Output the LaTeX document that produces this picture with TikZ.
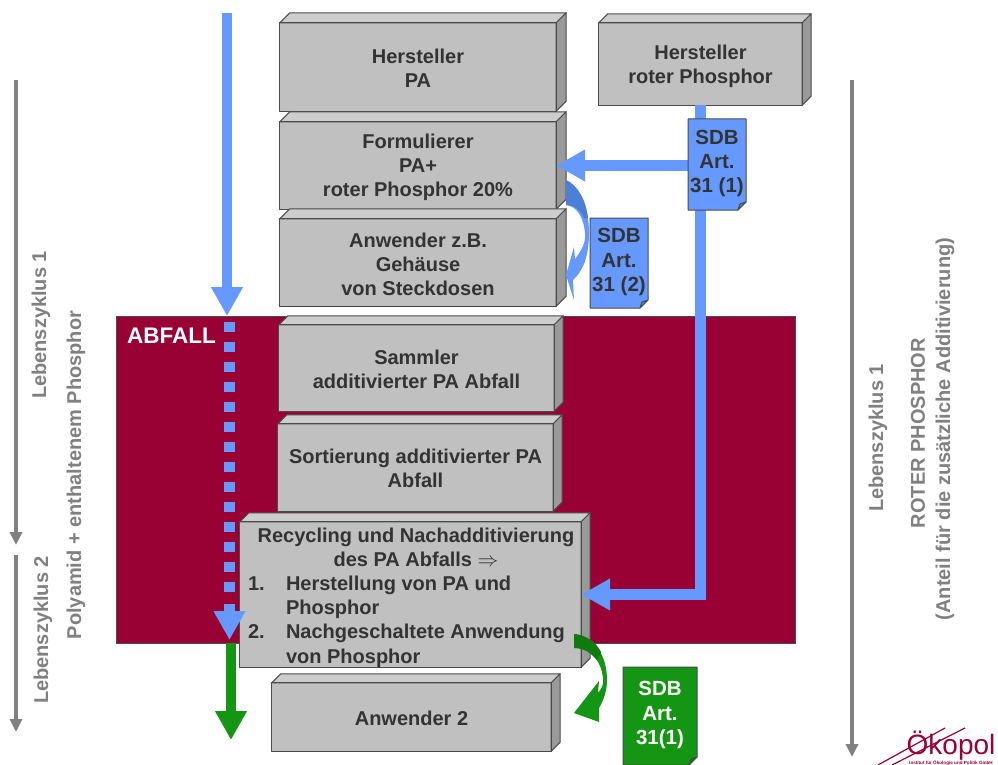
\documentclass[tikz,border=0pt]{standalone}
\usepackage{fontspec}
\setmainfont{Liberation Sans}
\usetikzlibrary{arrows.meta}
\definecolor{wine}{HTML}{990033}
\definecolor{bluearrow}{HTML}{6699FF}
\definecolor{bluedark}{HTML}{4D7FD9}
\definecolor{greenarrow}{HTML}{149614}
\definecolor{greendark}{HTML}{0F7A0F}
\definecolor{boxfront}{HTML}{C0C0C0}
\definecolor{boxtop}{HTML}{CDCDCD}
\definecolor{boxside}{HTML}{9A9A9A}
\definecolor{edge}{HTML}{4A4A4A}
\definecolor{ink}{HTML}{333333}
\definecolor{lifegrey}{HTML}{808080}
\tikzset{
  boxstyle/.style={fill=boxfront,inner sep=0pt},
  boxtext/.style={inner sep=0pt,align=center,text=ink,font=\fontsize{20}{24.2}\bfseries\selectfont},
  edgeline/.style={draw=edge,line width=1pt,line join=round},
  flowblue/.style={draw=bluearrow,line width=10.5pt,-{Triangle[length=29pt,width=30pt,fill=bluearrow]}},
  flowgreen/.style={draw=greenarrow,line width=10.5pt,-{Triangle[length=29pt,width=30pt,fill=greenarrow]}},
  lifearrow/.style={draw=lifegrey,line width=4pt,-{Triangle[length=13pt,width=12pt,fill=lifegrey]}},
  sidelabel/.style={rotate=90,text=lifegrey,font=\fontsize{20}{24}\bfseries\selectfont,inner sep=0pt,align=center},
  docstyle/.style={inner sep=0pt,align=center,font=\fontsize{20.5}{24.2}\bfseries\selectfont}
}
% name, x0, y0, x1, y1, depth, text shift, text
\newcommand{\cubebox}[8]{%
  \pgfmathsetmacro{\cxx}{(#2+#4)/2}\pgfmathsetmacro{\cyy}{(#3+#5)/2}%
  \pgfmathsetmacro{\wdd}{#4-#2}\pgfmathsetmacro{\htt}{#5-#3}%
  \node[boxstyle,minimum width=\wdd pt,minimum height=\htt pt] (#1) at (\cxx,\cyy) {};
  \draw[edgeline,fill=boxtop] (#1.north west) -- ++(#6,-#6) -- ([xshift=#6pt,yshift=#6pt]#1.north east) -- (#1.north east) -- cycle;
  \draw[edgeline,fill=boxside] (#1.north east) -- ++(#6,-#6) -- ([xshift=#6pt,yshift=#6pt]#1.south east) -- (#1.south east) -- cycle;
  \draw[edgeline] (#1.north west) rectangle (#1.south east);
  \node[boxtext] (#1text) at ([yshift=-#7pt]#1.center) {#8};
}
% name, x0, y0, x1, y1, fill, fold fill, text colour, text
\newcommand{\docbox}[9]{%
  \pgfmathsetmacro{\cxx}{(#2+#4)/2}\pgfmathsetmacro{\cyy}{(#3+#5)/2}%
  \pgfmathsetmacro{\wdd}{#4-#2}\pgfmathsetmacro{\htt}{#5-#3}%
  \draw[edgeline,fill=#6] (#2,#3) -- (#4,#3) -- (#4,#5-8) -- (#4-8,#5) -- (#2,#5) -- cycle;
  \draw[edgeline,fill=#7] (#4,#5-8) -- (#4-6,#5-6) -- (#4-8,#5) -- cycle;
  \node[docstyle,text=#8,minimum width=\wdd pt,minimum height=\htt pt] (#1) at (\cxx,\cyy-1) {#9};
}
\begin{document}
\begin{tikzpicture}[x=1pt,y=-1pt]
\useasboundingbox (0,0) rectangle (998,765);

% waste area
\node[fill=wine,draw=edge,line width=0.8pt,minimum width=679pt,minimum height=327pt,inner sep=0pt] (abfallarea) at (455.5,479.5) {};
\node[text=white,inner sep=0pt,font=\fontsize{22.5}{24}\bfseries\selectfont] (abfalltext) at (171.5,335.5) {ABFALL};

% boxes
\cubebox{hpa}{280}{23}{556}{111}{10}{1.6}{Hersteller\\PA}
\cubebox{hrp}{599}{23}{802}{105}{9}{2.5}{Hersteller\\roter Phosphor}
\cubebox{form}{280}{122}{556}{209}{10}{2}{Formulierer\\PA+\\roter Phosphor 20\%}
\cubebox{anw}{280}{219}{556}{306}{10}{1.8}{Anwender z.B.\\Gehäuse\\von Steckdosen}
\cubebox{samm}{279}{325}{554}{411}{9}{1.6}{Sammler\\additivierter PA Abfall}
\cubebox{sort}{278}{424}{553}{511}{9}{0.8}{Sortierung additivierter PA\\Abfall}
\cubebox{anwzwei}{272}{683}{551}{751}{9}{1.3}{Anwender 2}
\cubebox{rec}{240}{522}{581}{667}{9}{3}{%
  \hspace*{11pt}Recycling und Nachadditivierung\\
  \hspace*{11pt}des PA Abfalls $\Rightarrow$\\
  \makebox[325pt][l]{\makebox[38pt][l]{1.}Herstellung von PA und}\\
  \makebox[325pt][l]{\hspace*{38pt}Phosphor}\\
  \makebox[325pt][l]{\makebox[38pt][l]{2.}Nachgeschaltete Anwendung}\\
  \makebox[325pt][l]{\hspace*{38pt}von Phosphor}}

% blue connectors
\draw[flowblue] (hrp.south) |- (rec.east);
\draw[flowblue] (hrp.south |- form.east) -- (form.east);

% documents
\docbox{sdba}{688}{119}{746}{210}{bluearrow}{bluedark}{ink}{SDB\\Art.\\31 (1)}
\docbox{sdbb}{590}{218}{648}{308}{bluearrow}{bluedark}{ink}{SDB\\Art.\\31 (2)}
\docbox{sdbc}{623}{667}{697}{765}{greenarrow}{greendark}{white}{SDB\\Art.\\ 31(1)}

% main material flow
\coordinate (flowstart) at (227,13);
\coordinate (flowwaste) at (228,316);
\coordinate (dotstart) at (229.5,322);
\coordinate (dotend) at (229.5,592);
\coordinate (stubstart) at (229.5,604);
\coordinate (flowdotend) at (229.5,640);
\coordinate (greenstart) at (231,643);
\coordinate (flowgreenend) at (231,740);
\draw[flowblue] (flowstart) -- (flowstart |- flowwaste);
\draw[draw=bluearrow,line width=10.5pt,dash pattern=on 10pt off 10pt] (dotstart) -- (dotend);
\draw[flowgreen] (greenstart) -- (flowgreenend);
\draw[flowblue] (stubstart) -- (flowdotend);

% curved arrows
\fill[bluearrow] (566,180) .. controls (580,186) and (589,208) .. (589,233)
  .. controls (589,258) and (582,272) .. (573,280) -- (574,300) -- (566,275) -- (574,247) -- (575,259)
  .. controls (582,250) and (586,242) .. (585,233) .. controls (584,220) and (578,206) .. (566,205) -- cycle;
\fill[bluedark] (566,180) .. controls (578,186) and (586,200) .. (588,218) -- (584,218)
  .. controls (580,210) and (576,206) .. (566,205) -- cycle;
\fill[greenarrow] (574,634) .. controls (594,636) and (607,655) .. (607,680)
  .. controls (607,690) and (604,700) .. (599,708) -- (599,722) -- (574,713) -- (599,681) -- (598,693)
  .. controls (602,688) and (604,684) .. (603,678) .. controls (601,660) and (590,648) .. (574,648) -- cycle;
\fill[greendark] (574,634) .. controls (586,635) and (596,642) .. (601,652) -- (597,660)
  .. controls (590,652) and (584,648) .. (574,648) -- cycle;

% life-cycle arrows
\coordinate (la) at (16,80); \coordinate (lb) at (16,545);
\coordinate (lc) at (16,555); \coordinate (ld) at (16,732);
\coordinate (le) at (852,80); \coordinate (lf) at (852,757);
\draw[lifearrow] (la) -- (lb);
\draw[lifearrow] (lc) -- (ld);
\draw[lifearrow] (le) -- (lf);
\node[sidelabel] (lz1) at (41,325) {Lebenszyklus 1};
\node[sidelabel] (lz2) at (43,630) {Lebenszyklus 2};
\node[sidelabel] (poly) at (76,475) {Polyamid + enthaltenem Phosphor};
\node[sidelabel] (lz3) at (878,438) {Lebenszyklus 1};
\node[sidelabel] (rot) at (918,433) {ROTER PHOSPHOR};
\node[sidelabel] (ant) at (945,429) {(Anteil für die zusätzliche Additivierung)};

% logo
\draw[wine,line width=1.2pt] (878,765) -- (945,728);
\draw[wine,line width=1.2pt] (892,765) -- (965,728);
\node[text=wine,inner sep=0pt,anchor=base,font=\fontsize{28}{28}\selectfont] (logo) at (951,754.5) {Ökopol};
\node[text=wine,inner sep=0pt,font=\fontsize{4.6}{5}\bfseries\selectfont] (logosub) at (951,763) {Institut für Ökologie und Politik GmbH};
\end{tikzpicture}
\end{document}
